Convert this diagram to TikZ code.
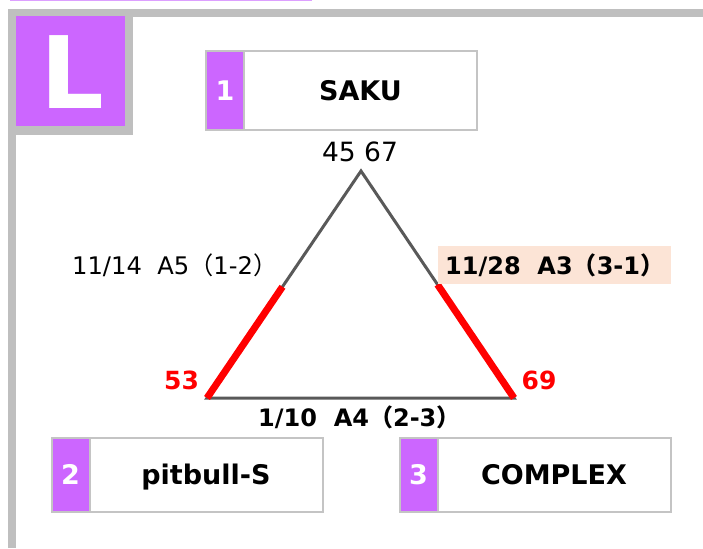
\documentclass[tikz,border=0pt]{standalone}
\usepackage{fontspec}
\setmainfont{DejaVu Sans}
\newfontfamily\cjk{Noto Sans CJK JP}
\usetikzlibrary{positioning,calc}
\definecolor{lpurple}{HTML}{CC66FF}
\definecolor{topline}{HTML}{DDA0FF}
\definecolor{framegray}{HTML}{BFBFBF}
\definecolor{boxgray}{HTML}{C4C4C4}
\definecolor{trigray}{HTML}{595959}
\definecolor{peach}{HTML}{FCE4D6}
\tikzset{
  teambox/.style={draw=boxgray, line width=2pt, fill=white, outer sep=0pt,
    minimum width=233pt, minimum height=79pt, text height=19.7pt, text depth=0pt,
    font=\fontsize{27}{30}\selectfont\bfseries},
  numbox/.style={teambox, fill=lpurple, text=white, minimum width=38pt},
  side/.style={line width=3pt, color=trigray},
  hot/.style={line width=7pt, color=red},
  lbl/.style={inner sep=0pt, font=\fontsize{24.2}{27}\selectfont},
  lblb/.style={lbl, font=\fontsize{24}{27}\selectfont\bfseries},
  score/.style={inner sep=0pt, anchor=base, text=red, font=\fontsize{25}{28}\selectfont\bfseries}
}

\begin{document}
\begin{tikzpicture}[x=1pt,y=-1pt]
			\useasboundingbox (0,0) rectangle (703,548);
			%%%%% FRAME %%%%%
			
			\draw[line width=1.5pt, color=topline] (10,0.75) -- (312,0.75);
			\draw[line width=7.5pt, color=framegray] (12.2,548) -- (12.2,13) -- (703,13);
			\fill[framegray] (8.5,9.5) rectangle (132.5,135);
			\fill[lpurple] (16,16.5) rectangle (125,126.5);
			\node[text=white, inner sep=0pt, anchor=base, font=\fontsize{100}{100}\selectfont\bfseries] (bigL) at (72,109) {L};
			
			%%%%% TEAMS %%%%%
			
			\node[teambox] (saku) at (360.5,90.5) {SAKU};
			\node[numbox, left=0pt of saku] (n1) {1};
			
			\node[teambox, minimum height=74pt] (pitbull) at (206,475) {pitbull-S};
			\node[numbox, minimum height=74pt, left=0pt of pitbull] (n2) {2};
			
			\node[teambox, minimum height=74pt] (complex) at (554,475) {COMPLEX};
			\node[numbox, minimum height=74pt, left=0pt of complex] (n3) {3};
			
			%%%%% TRIANGLE %%%%%
			
			\coordinate (apex) at (361,171);
			\coordinate (bl) at (207,398);
			\coordinate (br) at (514,398);
			\draw[side] (bl) -- (apex) -- (br) -- cycle;
			\draw[hot] (bl) -- ($(bl)!0.49!(apex)$);
			\draw[hot] (br) -- ($(br)!0.5!(apex)$);
			
			\node[anchor=base, inner sep=0pt, font=\fontsize{26.5}{30}\selectfont] (top) at (360,161) {45 67};
			\node[score] (s2) at (181.5,389) {53};
			\node[score] (s3) at (539,389) {69};
			
			\node[lbl, anchor=base west] (m12) at (72,274) {11/14\ \ A5{\cjk（}1-2{\cjk）}};
			\fill[peach] (438,246) rectangle (671,284);
			\node[lblb, anchor=base west] (m31) at (445,274) {11/28\ \ A3{\cjk（}3-1{\cjk）}};
			\node[lblb, anchor=base west] (m23) at (258,426) {1/10\ \ A4{\cjk（}2-3{\cjk）}};
			
			%%%%% END %%%%%
\end{tikzpicture}
\end{document}
